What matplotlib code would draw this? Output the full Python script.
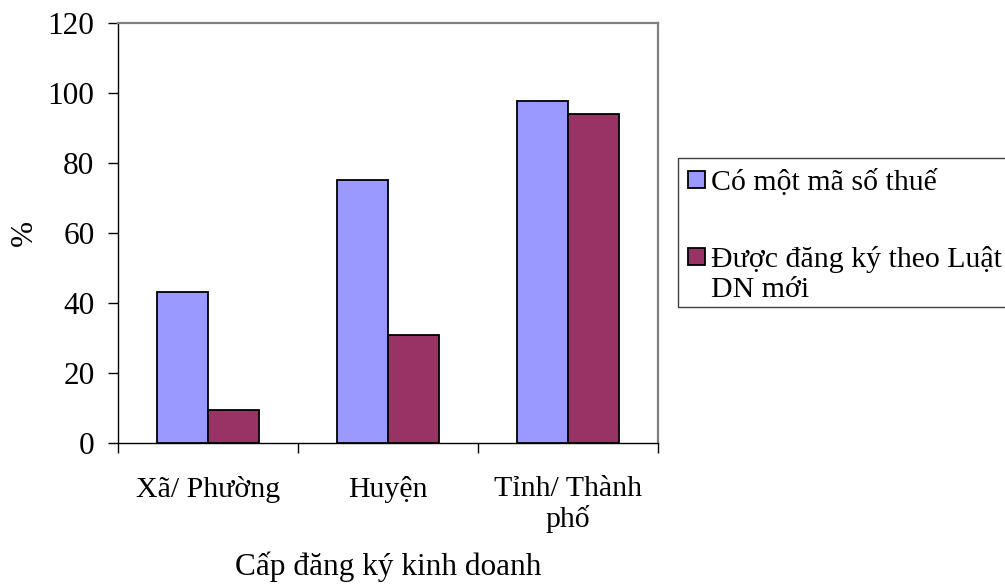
import matplotlib
matplotlib.use("Agg")
import matplotlib.pyplot as plt
import numpy as np
from matplotlib.patches import Rectangle

plt.rcParams["font.family"] = ["Liberation Serif", "DejaVu Serif"]

categories = ["Xã/ Phường", "Huyện", "Tỉnh/ Thành\nphố"]
series_names = ["Có một mã số thuế", "Được đăng ký theo Luật\nDN mới"]
ma_so_thue = [43.1, 75.1, 97.6]
dang_ky_moi = [9.5, 30.8, 93.9]
y_ticks = [0, 20, 40, 60, 80, 100, 120]

colors = ["#9999FF", "#993366"]
FS = 22.5
W, H = 1005, 586

fig = plt.figure(figsize=(W / 100, H / 100), dpi=100)
ax = fig.add_axes([118 / W, 1 - 443 / H, 540 / W, 420 / H])

x = np.arange(len(categories))
width = 1 / 3.5
for i, (vals, c) in enumerate(zip([ma_so_thue, dang_ky_moi], colors)):
    ax.bar(x + (i - 0.5) * width, vals, width, color=c, edgecolor="black",
           linewidth=1.3, label=series_names[i], zorder=3)

ax.set_xlim(-0.5, len(categories) - 0.5)
ax.set_ylim(0, 120)
ax.set_yticks(y_ticks)
ax.tick_params(axis="y", length=7, width=1, direction="out", labelsize=FS, pad=10)

# category labels in the middle, tick marks on the group boundaries
ax.set_xticks(x)
ax.set_xticklabels(categories, fontsize=21.5, linespacing=1.1, va="top")
ax.tick_params(axis="x", which="major", length=0, pad=24)
ax.set_xticks(np.arange(-0.5, len(categories)), minor=True)
ax.tick_params(axis="x", which="minor", length=7, width=1, direction="out")

for side in ["top", "right"]:
    ax.spines[side].set_color("#808080")
    ax.spines[side].set_linewidth(1.6)
for side in ["left", "bottom"]:
    ax.spines[side].set_color("black")
    ax.spines[side].set_linewidth(1)

ax.set_ylabel("%", fontsize=FS, labelpad=6)
ax.set_xlabel("Cấp đăng ký kinh doanh", fontsize=FS, labelpad=14)


# legend box drawn by hand so the swatch sits on the first line of a wrapped label
def px(xp, yp):
    return xp / W, 1 - yp / H


fig.patches.append(Rectangle(px(678, 307), 340 / W, 149 / H, transform=fig.transFigure,
                             facecolor="white", edgecolor="#404040", linewidth=1))
baselines = [190, 267]
line_step = 30
for name, c, yb in zip(series_names, colors, baselines):
    fig.patches.append(Rectangle(px(688, yb - 2), 17 / W, 17 / H,
                                 transform=fig.transFigure, facecolor=c,
                                 edgecolor="black", linewidth=1.3))
    for k, line in enumerate(name.split("\n")):
        fig.text(*px(711, yb + k * line_step), line, fontsize=21.5,
                 va="baseline", ha="left")

fig.savefig("out.png", dpi=100)
